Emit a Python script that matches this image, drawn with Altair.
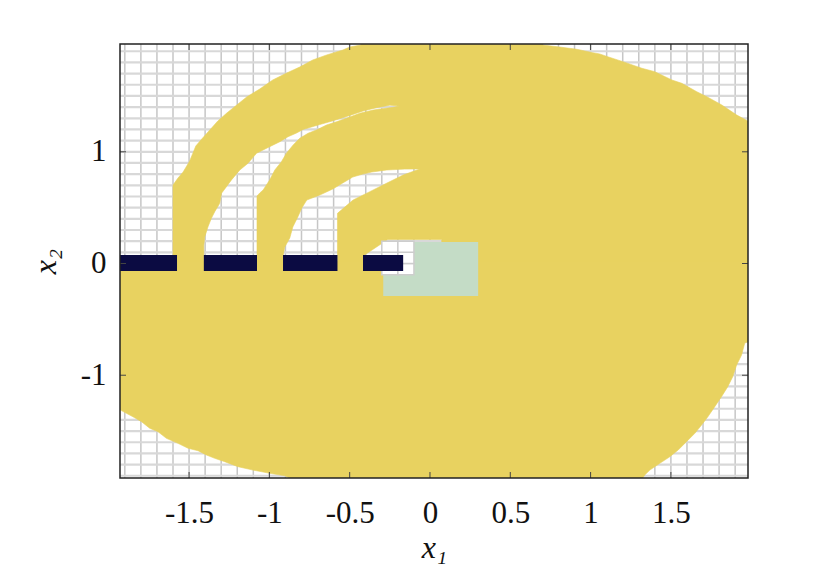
import altair as alt
import pandas as pd

YELLOW = "#e8d260"
GREEN = "#c4dcc6"
NAVY = "#0b0b42"

X_DOMAIN = [-1.93, 1.98]
Y_DOMAIN = [-1.92, 1.965]
X_TICKS = [-1.5, -1, -0.5, 0, 0.5, 1, 1.5]
Y_TICKS = [-1, 0, 1]
GRID_X = [round(-1.9 + 0.1 * i, 1) for i in range(39)]
GRID_Y = [round(-1.9 + 0.1 * i, 1) for i in range(39)]

# ---- yellow set, upper part (y >= 0), boundary segments
arc1_outer = [(-1.600, -0.02), (-1.600, 0.703), (-1.569, 0.765), (-1.537, 0.819), (-1.496, 0.918),
              (-1.458, 1.052), (-1.421, 1.115), (-1.371, 1.195), (-1.321, 1.276), (-1.265, 1.347),
              (-1.203, 1.419), (-1.141, 1.491), (-1.060, 1.562), (-0.979, 1.643), (-0.892, 1.705),
              (-0.811, 1.759), (-0.730, 1.822), (-0.643, 1.867), (-0.543, 1.911), (-0.499, 1.938),
              (-0.431, 1.956), (-0.420, 2.020)]
top_right = [(0.700, 2.020), (0.702, 1.956), (0.808, 1.938), (0.914, 1.918), (1.014, 1.887),
             (1.057, 1.876), (1.107, 1.851), (1.201, 1.807), (1.319, 1.748), (1.400, 1.717),
             (1.506, 1.643), (1.568, 1.613), (1.661, 1.538), (1.724, 1.493), (1.817, 1.419),
             (1.910, 1.329), (1.979, 1.276), (2.030, 1.230), (2.030, -0.02)]
patch_notch = [(0.073, -0.02), (0.073, 0.215), (-0.263, 0.215), (-0.417, 0.067), (-0.417, -0.02)]
band2_notch = [(-0.576, -0.02), (-0.576, 0.449), (-0.479, 0.568), (-0.375, 0.643), (-0.271, 0.718),
               (-0.167, 0.792), (-0.064, 0.846), (-0.157, 0.845), (-0.269, 0.837), (-0.362, 0.819),
               (-0.418, 0.801), (-0.481, 0.774), (-0.543, 0.721), (-0.605, 0.667), (-0.686, 0.613),
               (-0.767, 0.568), (-0.798, 0.497), (-0.823, 0.416), (-0.854, 0.327), (-0.873, 0.228),
               (-0.904, 0.148), (-0.915, 0.067), (-0.915, -0.02)]
band1_notch = [(-1.077, -0.02), (-1.077, 0.604), (-1.060, 0.631), (-1.039, 0.658), (-0.998, 0.748),
               (-0.966, 0.837), (-0.925, 0.911), (-0.894, 0.987), (-0.852, 1.061), (-0.811, 1.121),
               (-0.759, 1.166), (-0.707, 1.195), (-0.644, 1.240), (-0.582, 1.269), (-0.520, 1.300),
               (-0.437, 1.345), (-0.354, 1.374), (-0.230, 1.398), (-0.188, 1.410), (-0.250, 1.417),
               (-0.333, 1.395), (-0.417, 1.365), (-0.499, 1.325), (-0.603, 1.278), (-0.686, 1.244),
               (-0.790, 1.200), (-0.831, 1.168), (-0.884, 1.135), (-0.935, 1.090), (-0.998, 1.046),
               (-1.080, 0.987), (-1.133, 0.897), (-1.184, 0.837), (-1.236, 0.748), (-1.267, 0.688),
               (-1.298, 0.628), (-1.309, 0.539), (-1.340, 0.464), (-1.361, 0.405), (-1.382, 0.329),
               (-1.402, 0.240), (-1.408, 0.166), (-1.408, -0.02)]

# ---- yellow set, lower part (y <= 0)
lower_right = [(-2.000, 0.02), (2.030, 0.02), (2.030, -0.700), (1.981, -0.700), (1.960, -0.712),
               (1.940, -0.819), (1.909, -0.909), (1.885, -1.013), (1.854, -1.103), (1.815, -1.192),
               (1.773, -1.282), (1.730, -1.372), (1.691, -1.446), (1.649, -1.520), (1.597, -1.595),
               (1.545, -1.670), (1.493, -1.730), (1.431, -1.789), (1.369, -1.849), (1.337, -1.893),
               (1.325, -1.920), (1.310, -1.970)]
lower_left = [(-0.920, -1.970), (-0.873, -1.920), (-0.904, -1.900), (-0.998, -1.878), (-1.102, -1.849),
              (-1.195, -1.819), (-1.278, -1.774), (-1.340, -1.744), (-1.392, -1.714), (-1.444, -1.676),
              (-1.506, -1.654), (-1.569, -1.610), (-1.641, -1.565), (-1.693, -1.506), (-1.745, -1.475),
              (-1.796, -1.416), (-1.849, -1.372), (-1.890, -1.341), (-1.927, -1.312), (-2.000, -1.270)]

# ---- obstacles (dark), target (green), unreached cells next to the target
obs_x0 = [-1.95, -1.408, -0.915, -0.417]
obs_x1 = [-1.575, -1.077, -0.576, -0.167]
obs_y0 = [-0.067, -0.067, -0.067, -0.067]
obs_y1 = [0.076, 0.076, 0.076, 0.076]
target_x = [-0.291, 0.300]
target_y = [-0.291, 0.192]
cell_x = [-0.3, -0.3, -0.3, -0.2, -0.2, -0.2]
cell_y = [-0.1, 0.0, 0.1, -0.1, 0.0, 0.1]
CELL = 0.1

W, H = 628, 434
FONT = "Liberation Serif"

xs = alt.Scale(domain=X_DOMAIN, nice=False, zero=False)
ys = alt.Scale(domain=Y_DOMAIN, nice=False, zero=False)
MINUS = "\u2212"
xaxis = alt.Axis(values=X_TICKS, format="~g", labelExpr=f"replace(datum.label, '{MINUS}', '-')",
                 ticks=False, domain=False, grid=False, labelFlush=False,
                 labelFont=FONT, labelFontSize=31, labelColor="#111", labelPadding=20,
                 title="x\u2081", titleFont=FONT, titleFontSize=32, titleFontStyle="italic",
                 titleFontWeight="normal", titleColor="#111", titlePadding=4)
yaxis = alt.Axis(values=Y_TICKS, format="~g", labelExpr=f"replace(datum.label, '{MINUS}', '-')",
                 ticks=False, domain=False, grid=False, labelFlush=False,
                 labelFont=FONT, labelFontSize=31, labelColor="#111", labelPadding=14,
                 title="x\u2082", titleFont=FONT, titleFontSize=32, titleFontStyle="italic",
                 titleFontWeight="normal", titleColor="#111", titlePadding=18)


def X(f):
    return alt.X(f"{f}:Q", scale=xs, axis=xaxis)


def Y(f):
    return alt.Y(f"{f}:Q", scale=ys, axis=yaxis)


def polygon(points):
    df = pd.DataFrame(points, columns=["px", "py"])
    df["i"] = range(len(df))
    return alt.Chart(df).mark_line(fill=YELLOW, stroke=YELLOW, strokeWidth=0.6, clip=True).encode(
        x=X("px"), y=Y("py"), order="i:Q")


upper_pts = arc1_outer + top_right + patch_notch + band2_notch + band1_notch
lower_pts = lower_right + lower_left

grid_v = alt.Chart(pd.DataFrame({"gx": GRID_X})).mark_rule(color="#c6c6c6", strokeWidth=1.5).encode(x=X("gx"))
grid_h = alt.Chart(pd.DataFrame({"gy": GRID_Y})).mark_rule(color="#d8d8d8", strokeWidth=2.2).encode(y=Y("gy"))

upper = polygon(upper_pts)
lower = polygon(lower_pts)

target = alt.Chart(pd.DataFrame({"x0": [target_x[0]], "x1": [target_x[1]],
                                 "y0": [target_y[0]], "y1": [target_y[1]]})).mark_rect(
    color=GREEN).encode(x=X("x0"), x2="x1", y=Y("y0"), y2="y1")

cells_df = pd.DataFrame({"x0": cell_x, "y0": cell_y})
cells_df["x1"] = cells_df["x0"] + CELL
cells_df["y1"] = cells_df["y0"] + CELL
cells = alt.Chart(cells_df).mark_rect(fill="white", stroke="#cdcdcd", strokeWidth=1.5).encode(
    x=X("x0"), x2="x1", y=Y("y0"), y2="y1")

obs = alt.Chart(pd.DataFrame({"x0": obs_x0, "x1": obs_x1, "y0": obs_y0, "y1": obs_y1})).mark_rect(
    fill=NAVY, strokeWidth=0, clip=True).encode(x=X("x0"), x2="x1", y=Y("y0"), y2="y1")

xt = pd.DataFrame({"t": X_TICKS})
yt = pd.DataFrame({"t": Y_TICKS})
tick_b = alt.Chart(xt).mark_rule(color="#444", strokeWidth=1).encode(x=X("t"), y=alt.value(H), y2=alt.value(H - 6))
tick_t = alt.Chart(xt).mark_rule(color="#444", strokeWidth=1).encode(x=X("t"), y=alt.value(0), y2=alt.value(6))
tick_l = alt.Chart(yt).mark_rule(color="#444", strokeWidth=1).encode(y=Y("t"), x=alt.value(0), x2=alt.value(6))
tick_r = alt.Chart(yt).mark_rule(color="#444", strokeWidth=1).encode(y=Y("t"), x=alt.value(W), x2=alt.value(W - 6))

frame = alt.Chart(pd.DataFrame({"a": [0]})).mark_rect(fillOpacity=0, stroke="#222", strokeWidth=1.5).encode(
    x=alt.value(0), x2=alt.value(W), y=alt.value(0), y2=alt.value(H))

chart = alt.layer(grid_v, grid_h, upper, lower, target, cells, obs, tick_b, tick_t, tick_l, tick_r, frame).properties(
    width=W, height=H,
    autosize=alt.AutoSizeParams(type="none"),
    padding={"left": 112, "top": 36, "right": 70, "bottom": 96},
    background="white",
).configure_view(strokeWidth=0)

chart.save("out.html", embed_options={"renderer": "svg", "actions": False})
